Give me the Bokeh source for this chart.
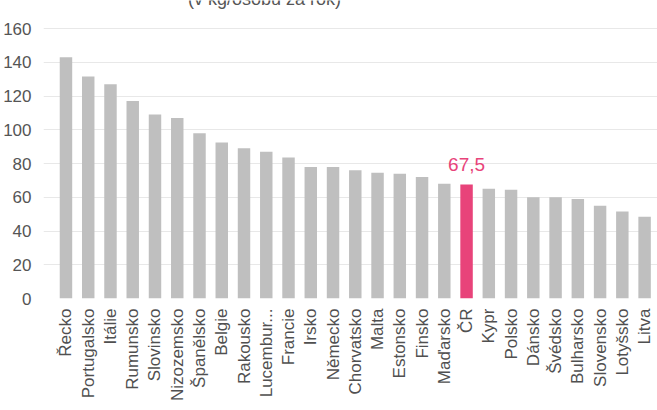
import math
from bokeh.plotting import figure
from bokeh.models import ColumnDataSource, Range1d, FixedTicker, Label
from bokeh.core.properties import value
from bokeh.embed import file_html
from bokeh.resources import INLINE

# ---- data ----
countries = ["Řecko", "Portugalsko", "Itálie", "Rumunsko", "Slovinsko", "Nizozemsko",
             "Španělsko", "Belgie", "Rakousko", "Lucembur...", "Francie", "Irsko",
             "Německo", "Chorvatsko", "Malta", "Estonsko", "Finsko", "Maďarsko", "ČR",
             "Kypr", "Polsko", "Dánsko", "Švédsko", "Bulharsko", "Slovensko",
             "Lotyšsko", "Litva"]
consumption = [143, 131.5, 127, 117, 109, 107, 98, 92.5, 89, 87, 83.5, 78, 78, 76,
               74.5, 74, 72, 68, 67.5, 65, 64.5, 60, 60, 59, 55, 51.5, 48.5]
highlight = "ČR"
y_ticks = [0, 20, 40, 60, 80, 100, 120, 140, 160]
subtitle = "(v kg/osobu za rok)"

GRAY = "#bfbfbf"
PINK = "#e8437a"
FONT = "Liberation Sans"

idx = list(range(len(countries)))
colors = [PINK if c == highlight else GRAY for c in countries]
source = ColumnDataSource(dict(x=idx, top=consumption, color=colors, name=countries))

hi = [i for i, c in enumerate(countries) if c == highlight]
hi_src = ColumnDataSource(dict(
    x=[idx[i] for i in hi],
    y=[consumption[i] for i in hi],
    t=[f"{consumption[i]:.1f}".replace(".", ",") for i in hi],
))

p = figure(width=657, height=410, output_backend="svg", toolbar_location=None,
           x_range=Range1d(-1.01, 26.58), y_range=Range1d(0, 176.6),
           min_border_left=42, min_border_right=0, min_border_top=0,
           min_border_bottom=112)
p.outline_line_color = None
p.background_fill_color = "white"

p.vbar(x="x", top="top", width=0.56, color="color", line_color=None, source=source)

p.text(x="x", y="y", text="t", source=hi_src, text_align="center",
       text_baseline="alphabetic", y_offset=-20, text_color=PINK,
       text_font=value(FONT), text_font_size="19px")

# axes
p.xaxis.ticker = FixedTicker(ticks=idx)
p.xaxis.major_label_overrides = {i: c for i, c in enumerate(countries)}
p.xaxis.major_label_orientation = math.pi / 2
p.xaxis.major_label_text_font = FONT
p.xaxis.major_label_text_font_size = "17px"
p.xaxis.major_label_text_color = "#505050"
p.xaxis.major_label_standoff = 10
p.xaxis.axis_line_color = None
p.xaxis.major_tick_line_color = None
p.xaxis.minor_tick_line_color = None
p.xaxis.major_tick_out = 0

p.yaxis.ticker = FixedTicker(ticks=y_ticks)
p.yaxis.major_label_text_font = FONT
p.yaxis.major_label_text_font_size = "17px"
p.yaxis.major_label_text_color = "#555555"
p.yaxis.major_label_standoff = 12
p.yaxis.axis_line_color = None
p.yaxis.major_tick_line_color = None
p.yaxis.minor_tick_line_color = None
p.yaxis.major_tick_out = 0

p.xgrid.visible = False
p.ygrid.ticker = FixedTicker(ticks=y_ticks)
p.ygrid.grid_line_color = "#e8e8e8"

p.add_layout(Label(x=221, y=177.4, x_units="screen", y_units="data", text=subtitle,
                   text_align="center", text_baseline="alphabetic",
                   text_font=FONT, text_font_size="18px", text_color="#555555"))

open("out.html", "w").write(file_html(p, INLINE))
